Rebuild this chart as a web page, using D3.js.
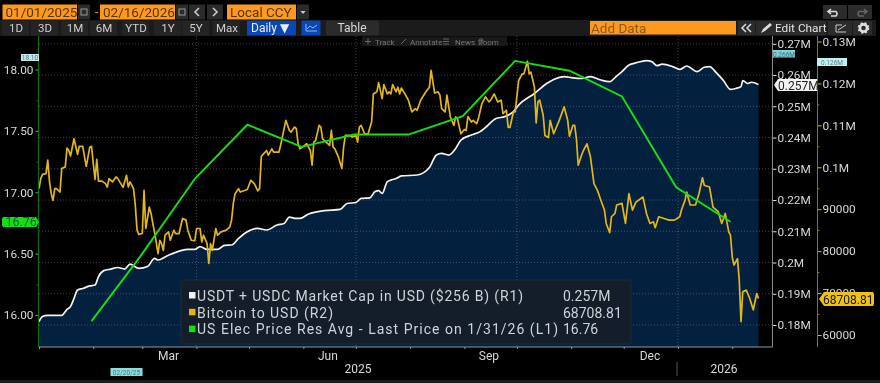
<!DOCTYPE html>
<html>
<head>
<meta charset="utf-8">
<script src="https://d3js.org/d3.v7.min.js"></script>
<style>
  html, body { margin: 0; padding: 0; background: #000; overflow: hidden; }
  svg { display: block; filter: blur(0.35px); }
  text { font-family: Roboto, "DejaVu Sans", sans-serif; }
</style>
</head>
<body>
<div id="chart"></div>
<script>
// days counted from 01/01/2025
let capDays = [0,2,5,13,16,18,20,22,25,29,32,34,37,41,45,49,52,57,62,66,68,73,81,85,89,92,96,102,106,110,114,118,125,130,136,140,143,147,149,154,163,172,176,181,184,189,192,194,196,199,204,207,216,223,227,230,234,238,241,247,252,255,261,266,271,274,283,290,294,300,305,310,315,321,326,330,333,337,341,347,350,353,356,362,366,370,376,380,383,387,391,395,398,401,402,405,407,411];
// USDT + USDC market cap, in millions of the chart's "M" unit
let capValues = [.1811,.1827,.1831,.1831,.1850,.1859,.1885,.1912,.1917,.1925,.1928,.1955,.1974,.1979,.1984,.1979,.1995,.1981,.1987,.2013,.2008,.2021,.2038,.2042,.2042,.2051,.2042,.2042,.2055,.2056,.2077,.2095,.2109,.2104,.2120,.2125,.2145,.2141,.2141,.2155,.2166,.2170,.2189,.2192,.2205,.2207,.2227,.2230,.2221,.2259,.2269,.2277,.2280,.2304,.2344,.2349,.2344,.2365,.2392,.2408,.2419,.2432,.2461,.2467,.2483,.2504,.2541,.2573,.2586,.2595,.2591,.2589,.2595,.2584,.2579,.2597,.2611,.2632,.2639,.2646,.2643,.2630,.2635,.2627,.2618,.2629,.2611,.2625,.2627,.2607,.2582,.2554,.2557,.2563,.2582,.2573,.2577,.2570];

let btcDays = [0,1,2,4,5,6,7,8,9,10,12,13,15,16,17,18,20,22,23,25,26,27,29,30,31,32,33,34,36,38,39,40,42,44,45,48,50,51,52,54,55,56,57,59,60,61,63,64,65,66,68,69,70,71,72,74,75,77,78,80,82,84,85,87,89,90,92,93,94,96,97,98,99,101,102,104,107,109,110,111,112,114,115,119,121,123,125,126,127,130,131,133,134,137,138,141,143,144,146,147,148,149,153,155,156,157,158,160,161,162,164,166,167,168,169,171,173,174,175,177,179,181,182,183,184,186,188,190,191,193,194,196,197,199,200,201,202,204,205,206,207,209,211,213,215,216,218,221,223,224,226,228,229,230,232,233,235,237,238,239,241,243,244,245,247,248,250,251,253,255,257,258,260,262,264,265,267,268,269,271,272,274,276,277,279,280,281,283,284,285,286,288,289,291,292,294,297,300,302,303,305,306,307,308,310,311,313,315,317,319,321,323,324,326,327,329,330,333,335,337,339,341,345,347,349,351,352,354,357,360,363,366,367,369,370,372,375,377,379,380,383,385,388,390,392,394,395,396,397,399,400,401,402,404,406,408,410,411];
// Bitcoin close, thousands of USD
let btcValues = [94.9,97.3,98.3,98.5,101.7,96.5,93.7,92.1,94.9,94.9,94.1,99.7,100.1,104.6,104.0,102.7,106.8,103.1,105.0,105.0,102.5,100.2,104.8,105.0,100.9,97.1,101.9,96.7,96.7,96.1,95.3,97.3,96.5,97.7,97.3,95.2,98.1,95.3,96.5,94.9,91.0,85.0,84.0,84.2,94.5,85.4,90.5,89.0,86.6,84.6,79.4,82.6,81.8,80.2,83.8,84.6,82.6,85.0,84.2,84.2,87.8,87.4,85.0,82.6,82.5,85.4,85.4,82.2,83.8,81.8,77.1,81.8,80.2,85.4,83.8,84.6,85.0,85.8,87.4,91.4,93.7,94.9,94.1,94.7,96.9,96.1,94.4,94.9,102.6,104.0,102.9,104.4,103.6,103.6,105.2,111.2,108.8,108.4,109.6,109.2,105.6,104.4,105.6,104.0,100.5,106.0,106.4,110.0,109.6,106.8,106.0,105.2,108.8,104.8,104.4,102.5,99.7,104.8,107.6,107.6,107.2,107.6,106.0,109.6,110.0,108.0,108.0,110.8,117.5,118.0,120.2,116.4,119.7,117.5,118.0,117.5,119.7,118.0,119.1,117.5,118.9,117.5,116.0,113.2,114.0,113.6,116.0,118.0,119.1,123.1,117.7,118.0,117.2,114.0,113.2,117.2,112.0,110.0,112.0,111.6,108.0,109.0,108.8,112.1,110.8,111.2,110.4,111.6,115.2,116.8,115.6,116.0,117.5,115.6,116.0,112.8,113.6,109.5,109.5,113.2,113.2,120.7,122.3,122.3,125.3,122.3,122.7,119.1,110.6,115.6,116.0,112.4,107.6,107.1,111.2,108.0,111.0,114.4,111.2,107.4,110.0,110.0,106.8,100.5,103.0,104.0,105.6,102.5,96.1,94.5,92.1,89.8,86.6,84.4,88.2,89.0,91.0,91.4,86.6,93.7,89.8,91.7,92.9,89.0,86.6,87.0,85.6,88.2,87.8,87.4,87.4,88.2,89.8,92.1,94.1,91.0,91.0,93.7,97.5,95.7,95.3,90.5,89.4,86.6,89.0,84.6,83.8,78.6,76.7,78.2,73.1,63.2,70.3,70.7,68.7,66.0,69.9,68.709];

let elecDays = [30,58,89,119,150,180,211,242,272,303,333,364,395];
let elecValues = [15.95,16.48,17.11,17.55,17.37,17.47,17.47,17.62,18.07,17.99,17.78,17.04,16.76];

let leftTicks = [16,16.5,17,17.5,18];
let leftMinor = [16.25,16.75,17.25,17.75];
let capTicks = [.18,.19,.2,.21,.22,.23,.24,.25,.26,.27];
let btcTicks = [60000,70000,80000,90000,100000,110000,120000,130000];
let btcMinor = [65000,75000,85000,95000,105000,115000,125000];
let quarterLabels = [["Mar","2025-03-16"],["Jun","2025-06-15"],["Sep","2025-09-15"],["Dec","2025-12-16"]];
let rangeButtons = ["1D","3D","1M","6M","YTD","1Y","5Y","Max"];
let legendNames = ["USDT + USDC Market Cap in USD ($256 B) (R1)","Bitcoin to USD (R2)","US Elec Price Res Avg - Last Price on 1/31/26 (L1)"];
let legendValues = ["0.257M","68708.81","16.76"];

const width = 880, height = 383;
const WHITE = "#f2f2f2", GOLD = "#e0b61c", GREEN = "#12e012", NAVY = "#03203f", ORANGE = "#fb9a1e";
const plotBottom = 347;

const svg = d3.select("#chart").append("svg").attr("width", width).attr("height", height);
svg.append("rect").attr("width", width).attr("height", height).attr("fill", "#000");

const start = new Date(2025, 0, 1);
const dayToDate = (d) => d3.timeDay.offset(start, d);

//Scales
const x = d3.scaleTime().domain([start, dayToDate(411)]).range([39, 758.5]);
const yLeft = d3.scaleLinear().domain([16, 18]).range([315, 69.5]);
const yCap = d3.scaleLinear().domain([.18, .27]).range([325, 43.8]);
const yBtc = d3.scaleLinear().domain([60000, 130000]).range([335, 41.5]);

const capData = capDays.map((d, i) => ({ date: dayToDate(d), value: capValues[i] }));
const btcData = btcDays.map((d, i) => ({ date: dayToDate(d), value: btcValues[i] * 1000 }));
const elecData = elecDays.map((d, i) => ({ date: dayToDate(d), value: elecValues[i] }));

//Area under the market cap
svg.append("path").datum(capData)
  .attr("fill", NAVY)
  .attr("d", d3.area().x(d => x(d.date)).y0(plotBottom).y1(d => yCap(d.value)).curve(d3.curveMonotoneX));

//Dotted grid
const grid = svg.append("g").attr("stroke", "#fff").attr("stroke-opacity", .24).attr("stroke-dasharray", "1,2");
grid.selectAll(".h").data(capTicks).enter().append("line")
  .attr("x1", 39).attr("x2", 772).attr("y1", d => yCap(d)).attr("y2", d => yCap(d));
grid.selectAll(".v").data(x.ticks(d3.timeMonth.every(3)).filter(d => d > start)).enter().append("line")
  .attr("x1", d => x(d)).attr("x2", d => x(d)).attr("y1", 36).attr("y2", plotBottom);

//Lines
const line = (y) => d3.line().x(d => x(d.date)).y(d => y(d.value));
svg.append("path").datum(capData).attr("fill", "none").attr("stroke", WHITE).attr("stroke-width", 1.7).attr("d", line(yCap).curve(d3.curveMonotoneX));
svg.append("path").datum(btcData).attr("fill", "none").attr("stroke", GOLD).attr("stroke-width", 1.7).attr("stroke-linejoin", "round").attr("d", line(yBtc));
svg.append("path").datum(elecData).attr("fill", "none").attr("stroke", GREEN).attr("stroke-width", 1.9).attr("d", line(yLeft));

//Axes
function styleAxis(g, color, tickColor) {
  g.select(".domain").remove();
  g.selectAll("line").attr("stroke", tickColor);
  g.selectAll("text").attr("fill", color).attr("font-size", 11.8);
}
const lgAxis = svg.append("g").attr("transform", "translate(38.5,0)")
  .call(d3.axisLeft(yLeft).tickValues(leftTicks).tickFormat(d3.format(".2f")).tickSize(3).tickPadding(2));
styleAxis(lgAxis, "#d8d8d8", GREEN);
svg.append("g").attr("transform", "translate(38.5,0)")
  .call(d3.axisLeft(yLeft).tickValues(leftMinor).tickFormat("").tickSize(2))
  .call(g => styleAxis(g, "#ddd", "#0b7a0b"));
svg.append("line").attr("x1", 38.5).attr("x2", 38.5).attr("y1", 36).attr("y2", plotBottom).attr("stroke", "#0a6e0a").attr("stroke-width", 1.2);

const capAxis = svg.append("g").attr("transform", "translate(772.5,0)")
  .call(d3.axisRight(yCap).tickValues(capTicks).tickFormat(d => (+d.toFixed(2)) + "M").tickSize(4).tickPadding(1));
styleAxis(capAxis, "#d8d8d8", "#ddd");
svg.append("line").attr("x1", 772.5).attr("x2", 772.5).attr("y1", 36).attr("y2", plotBottom).attr("stroke", "#8a8a8a");

const btcAxis = svg.append("g").attr("transform", "translate(817.5,0)")
  .call(d3.axisRight(yBtc).tickValues(btcTicks).tickFormat(d => d >= 100000 ? (d / 1000000) + "M" : d).tickSize(4).tickPadding(1));
styleAxis(btcAxis, "#d8d8d8", GOLD);
svg.append("g").attr("transform", "translate(817.5,0)")
  .call(d3.axisRight(yBtc).tickValues(btcMinor).tickFormat("").tickSize(2))
  .call(g => styleAxis(g, "#ddd", "#8a7414"));
svg.append("line").attr("x1", 817.5).attr("x2", 817.5).attr("y1", 36).attr("y2", plotBottom).attr("stroke", "#8a7414");

const bottomAxis = svg.append("g").attr("transform", `translate(0,${plotBottom})`)
  .call(d3.axisBottom(x).ticks(d3.timeMonth.every(1)).tickFormat("").tickSize(2));
styleAxis(bottomAxis, "#ddd", "#999");
svg.append("line").attr("x1", 39).attr("x2", 772.5).attr("y1", plotBottom).attr("y2", plotBottom).attr("stroke", "#8f97a3").attr("stroke-width", 1.2);

svg.selectAll(".qlabel").data(quarterLabels).enter().append("text")
  .attr("x", d => x(new Date(d[1] + "T00:00"))).attr("y", 360)
  .attr("text-anchor", "middle").attr("fill", "#d8d8d8").attr("font-size", 12).text(d => d[0]);
label(358, 373, "2025", "#d8d8d8", 12, "middle");
label(724, 373, "2026", "#d8d8d8", 12, "middle");
svg.append("line").attr("x1", 677).attr("x2", 677).attr("y1", 362).attr("y2", 376).attr("stroke", "#555");
svg.append("rect").attr("y", 380).attr("width", width).attr("height", 3).attr("fill", "#1c1c1c");

function label(px, py, txt, fill, size, anchor) {
  return svg.append("text").attr("x", px).attr("y", py).attr("fill", fill)
    .attr("font-size", size).attr("text-anchor", anchor || "start").text(txt);
}
function box(px, py, w, h, fill) {
  return svg.append("rect").attr("x", px).attr("y", py).attr("width", w).attr("height", h).attr("fill", fill);
}

//Little cyan marks for the max and min dates
box(21, 54, 18, 7, "#bfeaea"); label(30, 60, "18.10", "#54757a", 6.5, "middle");
box(773, 50, 22, 7.5, "#7fd2d8"); label(784, 56.5, "0.266M", "#3b6c72", 6.5, "middle");
box(817, 58, 30, 8, "#bff0f2"); label(832, 64.5, "0.126M", "#54858a", 6.5, "middle");
box(110.5, 368, 32, 8, "#8fdcdc"); label(126.5, 374.5, "02/20/25", "#3f7a7c", 6.5, "middle");

//Last value tags
svg.append("path").attr("fill", GREEN).attr("d", "M2,219 L3,217 H36 L39,222 L36,227 H3 L2,225 Z");
label(5.5, 226.3, "16.76", "#063", 12.5);
svg.append("path").attr("fill", "#f4f4f4").attr("d", "M774,85 L778,79 H817 V91 H778 Z");
label(778, 89.5, "0.257M", "#222", 12);
svg.append("path").attr("fill", "#eec21a").attr("d", "M819,299 L824,292 H873 L874,294 V304 L873,306 H824 Z");
label(823, 303.5, "68708.81", "#1c1400", 12);

//Legend
svg.append("rect").attr("x", 181).attr("y", 280).attr("width", 450).attr("height", 64).attr("rx", 2)
  .attr("fill", "#131e2a").attr("stroke", "#1c2a38");
[WHITE, GOLD, GREEN].forEach((c, i) => box(189, 292 + i * 16.8, 6.5, 6.5, c));
let legendWidths = [326, 136, 361];
legendNames.forEach((t, i) => label(197, 300.8 + i * 16.8, t, "#cfd2d6", 14).attr("textLength", legendWidths[i]).attr("lengthAdjust", "spacing"));
legendValues.forEach((t, i) => label(563, 300.8 + i * 16.8, t, "#cfd2d6", 14));

//Toolbar, first row
function orangeBox(px, py, w, h, txt) {
  box(px, py, w, h, ORANGE);
  label(px + 3, py + h - 3, txt, "#5a3300", 13.5);
}
function greyBtn(px, py, w, h) { box(px, py, w, h, "#2b2b2b"); }
orangeBox(2.5, 4.5, 74.5, 15, "01/01/2025");
greyBtn(78, 4.5, 12, 15);
label(95, 16, "-", ORANGE, 12);
orangeBox(100, 4.5, 75, 15, "02/16/2026");
greyBtn(176, 4.5, 12, 15);
[78, 176].forEach(px => svg.append("rect").attr("x", px + 3).attr("y", 9).attr("width", 6).attr("height", 6).attr("fill", "none").attr("stroke", "#999"));
greyBtn(189, 4.5, 16, 15);
svg.append("path").attr("fill", "none").attr("stroke", "#ccc").attr("stroke-width", 1.6).attr("d", "M199,8 L195,12 L199,16");
greyBtn(207, 4.5, 16, 15);
svg.append("path").attr("fill", "none").attr("stroke", "#ccc").attr("stroke-width", 1.6).attr("d", "M213,8 L217,12 L213,16");
orangeBox(227, 4.5, 69, 15, "Local CCY");
greyBtn(297, 4.5, 12, 15);
svg.append("path").attr("fill", "#ccc").attr("d", "M300.5,11 H305.5 L303,14 Z");
greyBtn(823, 5, 24, 14);
svg.append("path").attr("fill", "none").attr("stroke", "#ddd").attr("stroke-width", 1.6).attr("d", "M831,9 L828,11.5 L831,14 M828,11.5 H836 A3,3 0 0 1 836,16 H831");
greyBtn(848, 5, 24, 14);
svg.append("path").attr("fill", "none").attr("stroke", "#666").attr("stroke-width", 1.6).attr("d", "M864,9 L867,11.5 L864,14 M867,11.5 H859 A3,3 0 0 0 859,16 H864");

//Toolbar, second row
box(0, 20, 876, 16, "#1b1b1b");
const btnCentres = [16, 45, 75, 104, 136, 168, 196, 227];
rangeButtons.forEach((t, i) => {
  box(btnCentres[i] - 14, 21, 27, 14.5, "#242424");
  label(btnCentres[i], 32.3, t, "#cfcfcf", 11.5, "middle");
});
box(247, 20.5, 49, 15, "#0a46b4"); label(251, 32.3, "Daily ▼", "#e8eefc", 12);
box(301.5, 20.5, 19, 15, "#0a46b4");
svg.append("path").attr("fill", "none").attr("stroke", "#8fb8f0").attr("d", "M306,31 H317 M306,24 V31 M307,29 L310,26 L313,28 L317,25");
box(326, 20.5, 53, 15, "#2b2b2b"); label(352, 32.3, "Table", "#d8d8d8", 12, "middle");
box(590, 21, 146, 13.5, ORANGE); label(591, 32.5, "Add Data", "#8a5a14", 13.5);
greyBtn(738, 21, 17, 14);
svg.append("path").attr("fill", "none").attr("stroke", "#ddd").attr("stroke-width", 1.5).attr("d", "M746,24 L742,28 L746,32 M751,24 L747,28 L751,32");
greyBtn(756, 21, 70, 14);
svg.append("path").attr("fill", "#ddd").attr("d", "M761,33 L763,29 L770,23 L772,25 L765,31 Z");
label(775, 32, "Edit Chart", "#e2e2e2", 11.8);
greyBtn(828, 21, 24, 14);
svg.append("path").attr("fill", "none").attr("stroke", "#ccc").attr("d", "M836,32 H846 M836,32 V25 H842 M838,30 L846,25");
greyBtn(853, 21, 19, 14);
svg.append("circle").attr("cx", 863.5).attr("cy", 28).attr("r", 3.6).attr("fill", "none").attr("stroke", "#ddd").attr("stroke-width", 2.6);
svg.append("circle").attr("cx", 863.5).attr("cy", 28).attr("r", 5).attr("fill", "none").attr("stroke", "#ddd").attr("stroke-width", 1.6).attr("stroke-dasharray", "2,2");

//Chart tools
box(362, 36.5, 145, 9.5, "#191919");
label(375, 44.5, "Track", "#777", 8);
label(410, 44.5, "Annotate", "#777", 8);
label(455, 44.5, "News", "#777", 8);
label(478, 44.5, "Zoom", "#777", 8);
svg.append("path").attr("fill", "none").attr("stroke", "#666").attr("d", "M365,41.5 H371 M368,38.5 V44.5 M401,44 L406,39 M443,39 H449 M443,41.5 H449 M443,44 H449");
svg.append("circle").attr("cx", 481).attr("cy", 41).attr("r", 2.2).attr("fill", "none").attr("stroke", "#666");
</script>
</body>
</html>
